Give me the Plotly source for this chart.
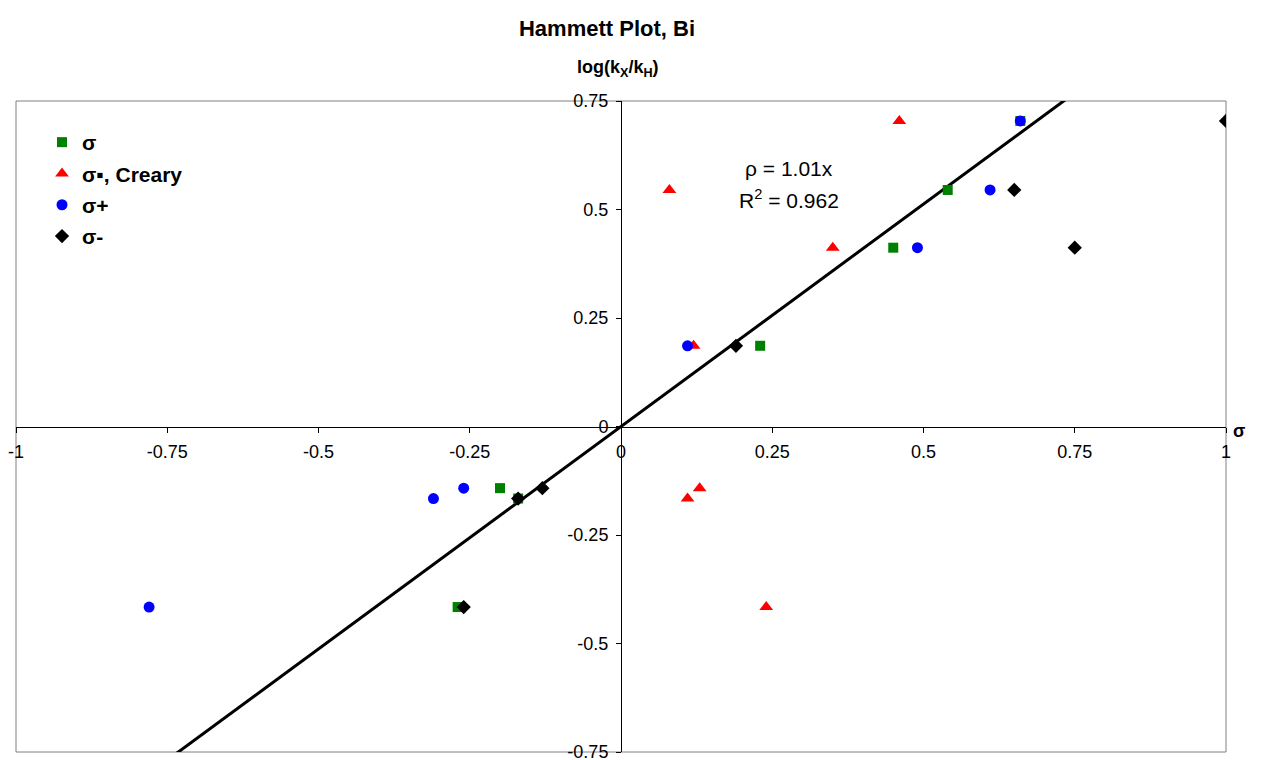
import plotly.graph_objects as go

# log(kX/kH) values (same compounds for each substituent scale)
log_k = [0.704, 0.545, 0.412, 0.186, -0.142, -0.166, -0.416]

sigma = [0.66, 0.54, 0.45, 0.23, -0.20, -0.17, -0.27]
sigma_creary = [0.46, 0.08, 0.35, 0.12, 0.13, 0.11, 0.24]
sigma_plus = [0.66, 0.61, 0.49, 0.11, -0.26, -0.31, -0.78]
sigma_minus = [1.00, 0.65, 0.75, 0.19, -0.13, -0.17, -0.26]

trend_slope = 1.025
trend_x = [-1.0, 1.0]

x_ticks = [-1, -0.75, -0.5, -0.25, 0, 0.25, 0.5, 0.75, 1]
x_tick_text = ["-1", "-0.75", "-0.5", "-0.25", "0", "0.25", "0.5", "0.75", "1"]
y_ticks = [-0.75, -0.5, -0.25, 0, 0.25, 0.5, 0.75]
y_tick_text = ["-0.75", "-0.5", "-0.25", "0", "0.25", "0.5", "0.75"]

FONT = "Liberation Sans, Arial, sans-serif"

fig = go.Figure()

fig.add_trace(go.Scatter(
    x=trend_x, y=[trend_slope * v for v in trend_x], mode="lines",
    line=dict(color="black", width=3), showlegend=False, hoverinfo="skip"))

series = [
    ("σ", sigma, "square", "#008000", 10),
    ("σ▪, Creary", sigma_creary, "triangle-up", "#FF0000", 12),
    ("σ+", sigma_plus, "circle", "#0000FF", 11),
    ("σ-", sigma_minus, "diamond", "#000000", 11),
]
for i, (name, xs, sym, col, sz) in enumerate(series):
    fig.add_trace(go.Scatter(
        x=xs, y=log_k, mode="markers", name=f"<b>{name}</b>", legendgroup=f"g{i}",
        marker=dict(symbol=sym, color=col, size=sz, line=dict(width=0))))

W, H = 1272, 760
L, R, T, B = 16, 1226, 101, 752


def px(xp):
    return (xp - L) / (R - L)


def py(yp):
    return (B - yp) / (B - T)


axis_common = dict(
    showgrid=False, zeroline=False, showline=True, linecolor="black", linewidth=1,
    ticks="outside", ticklen=5, tickcolor="black", tickwidth=1,
    tickfont=dict(family=FONT, size=18, color="black"),
    anchor="free", position=0.5, ticklabeloverflow="allow", automargin=False,
)

fig.update_layout(
    width=W, height=H,
    margin=dict(l=L, r=W - R, t=T, b=H - B, autoexpand=False),
    paper_bgcolor="white", plot_bgcolor="white",
    title=dict(text="<b>Hammett Plot, Bi</b>", x=607 / W, xanchor="center",
               y=1 - 28 / H, yanchor="middle",
               font=dict(family=FONT, size=22, color="black")),
    xaxis=dict(range=[-1, 1], tickvals=x_ticks, ticktext=x_tick_text,
               ticklabelstandoff=4, **axis_common),
    yaxis=dict(range=[-0.75, 0.75], tickvals=y_ticks, ticktext=y_tick_text,
               ticklabelstandoff=4, **axis_common),
    legend=dict(x=px(42), y=py(122), xanchor="left", yanchor="top",
                bgcolor="rgba(0,0,0,0)", traceorder="grouped", tracegroupgap=1,
                font=dict(family=FONT, size=21, color="black")),
    showlegend=True,
    shapes=[dict(type="rect", xref="paper", yref="paper", x0=0, y0=0, x1=1, y1=1,
                 line=dict(color="#808080", width=1), layer="below")],
    annotations=[
        dict(text="<b>log(k<sub>X</sub>/k<sub>H</sub>)</b>", xref="paper", yref="paper",
             x=px(618), y=py(68), xanchor="center", yanchor="middle", showarrow=False,
             font=dict(family=FONT, size=18, color="black")),
        dict(text="<b>σ</b>", xref="paper", yref="paper",
             x=px(1239), y=py(431), xanchor="center", yanchor="middle", showarrow=False,
             font=dict(family=FONT, size=18, color="black")),
        dict(text="ρ = 1.01x", xref="paper", yref="paper",
             x=px(789), y=py(168), xanchor="center", yanchor="middle", showarrow=False,
             font=dict(family=FONT, size=21, color="black")),
        dict(text="R<sup>2</sup> = 0.962", xref="paper", yref="paper",
             x=px(789), y=py(199), xanchor="center", yanchor="middle", showarrow=False,
             font=dict(family=FONT, size=21, color="black")),
    ],
)

fig.write_html("out.html")
